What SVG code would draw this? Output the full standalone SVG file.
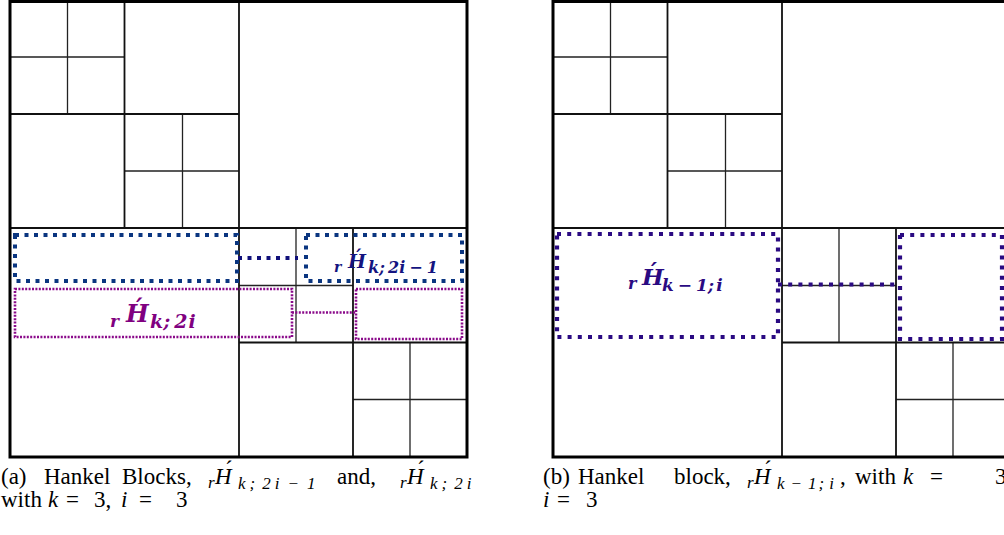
<svg xmlns="http://www.w3.org/2000/svg" width="1004" height="535" viewBox="0 0 1004 535">
<style>
.frame{fill:none;stroke:#000;stroke-width:3}
.quad{fill:none;stroke:#111;stroke-width:1.8}
.cell{fill:none;stroke:#222;stroke-width:1.3}
.blueA{fill:none;stroke:#0a3580;stroke-width:4;stroke-dasharray:4 5.5}
.blueC{fill:none;stroke:#10107a;stroke-width:4;stroke-dasharray:4 5.5}
.purp{fill:none;stroke:#8a0a8a;stroke-width:2.6;stroke-dasharray:2 1.4}
.indigo{fill:none;stroke:#2a0a82;stroke-width:4.2;stroke-dasharray:4 6.2}
.cap{font-family:"Liberation Serif",serif;font-size:23px;fill:#000}
.it{font-style:italic}
.lab{font-family:"DejaVu Serif",serif;font-style:italic;font-weight:bold}
.acc{font-style:normal}
</style>
<defs>
<g id="grid">
<path class="cell" d="M57.5,1.5V114 M0,57H114.5 M172.5,114V228 M114.5,171H229 M286,228V342.5 M229,285.5H343 M400,342.5V457 M343,399.5H457"/>
<path class="quad" d="M114.5,1.5V228 M0,114H229 M343,228V457 M229,342.5H457"/>
<path class="quad" d="M229,1.5V457 M0,228H457"/>
<rect class="frame" x="0" y="1.5" width="457" height="455.5"/>
</g>
</defs>

<g id="panel-a">
<use href="#grid" x="10" y="0"/>
</g>
<g id="panel-b">
<use href="#grid" x="553" y="0"/>
</g>

<g id="highlight-a">
<rect id="box-a-blue-left" class="blueA" x="15" y="235" width="222" height="46"/>
<rect id="box-a-blue-right" class="blueA" x="306" y="235" width="156" height="46"/>
<rect id="box-a-purple-left" class="purp" x="15" y="289" width="277" height="48"/>
<rect id="box-a-purple-right" class="purp" x="356" y="289" width="106" height="50"/>
</g>
<g id="highlight-b">
<rect id="box-b-left" class="indigo" x="557" y="234" width="221" height="103"/>
<rect id="box-b-right" class="indigo" x="900" y="235" width="102" height="104"/>
</g>

<g id="connectors">
<path class="blueC" d="M238,258H298"/>
<path class="purp" d="M292,312.5H356"/>
<path class="indigo" d="M778,284.5H900"/>
</g>

<g id="label-a-blue">
<text class="lab" fill="#141480"><tspan x="334" y="272" font-size="14">r</tspan><tspan x="348" y="268" font-size="19">H</tspan><tspan class="acc" x="353" y="264" font-size="19">´</tspan><tspan x="368" y="273" font-size="16">k;</tspan><tspan dx="3" font-size="16">2i</tspan><tspan dx="4" font-size="16">−</tspan><tspan dx="4" font-size="16">1</tspan></text>
</g>
<g id="label-a-purple">
<text class="lab" fill="#800080"><tspan x="110" y="327" font-size="17">r</tspan><tspan x="126" y="322" font-size="24">H</tspan><tspan class="acc" x="132" y="317" font-size="24">´</tspan><tspan x="150" y="328" font-size="19">k;</tspan><tspan dx="4" font-size="19">2</tspan><tspan dx="1" font-size="19">i</tspan></text>
</g>
<g id="label-b">
<text class="lab" fill="#2a0a82"><tspan x="628" y="289" font-size="16">r</tspan><tspan x="642" y="285" font-size="23">H</tspan><tspan class="acc" x="647" y="280" font-size="23">´</tspan><tspan x="662" y="291" font-size="17">k</tspan><tspan dx="4" font-size="17">−</tspan><tspan dx="4" font-size="17">1;</tspan><tspan dx="2" font-size="17">i</tspan></text>
</g>

<g id="caption-a">
<text class="cap"><tspan x="1" y="484">(a)</tspan><tspan x="44">Hankel</tspan><tspan x="122">Blocks,</tspan><tspan class="it" x="208" y="488" font-size="17">r</tspan><tspan class="it" x="215" y="484">H</tspan><tspan x="225" y="477">´</tspan><tspan class="it" x="238" y="489" font-size="17">k</tspan><tspan class="it" dx="4" font-size="17">;</tspan><tspan class="it" dx="7" font-size="17">2</tspan><tspan class="it" dx="4" font-size="17">i</tspan><tspan class="it" dx="8" font-size="17">−</tspan><tspan class="it" dx="8" font-size="17">1</tspan><tspan x="337" y="484">and,</tspan><tspan class="it" x="400" y="488" font-size="17">r</tspan><tspan class="it" x="407" y="484">H</tspan><tspan x="417" y="477">´</tspan><tspan class="it" x="430" y="489" font-size="17">k</tspan><tspan class="it" dx="4" font-size="17">;</tspan><tspan class="it" dx="7" font-size="17">2</tspan><tspan class="it" dx="4" font-size="17">i</tspan></text>
<text class="cap"><tspan x="1" y="507">with</tspan><tspan class="it" x="48">k</tspan><tspan x="66">=</tspan><tspan x="94">3,</tspan><tspan class="it" x="121">i</tspan><tspan x="139">=</tspan><tspan x="176">3</tspan></text>
</g>

<g id="caption-b">
<text class="cap"><tspan x="543" y="484">(b)</tspan><tspan x="578">Hankel</tspan><tspan x="674">block,</tspan><tspan class="it" x="747" y="488" font-size="17">r</tspan><tspan class="it" x="754" y="484">H</tspan><tspan x="764" y="477">´</tspan><tspan class="it" x="777" y="489" font-size="17">k</tspan><tspan class="it" dx="6" font-size="17">−</tspan><tspan class="it" dx="6" font-size="17">1</tspan><tspan class="it" dx="2" font-size="17">;</tspan><tspan class="it" dx="5" font-size="17">i</tspan><tspan x="840" y="484">,</tspan><tspan x="855">with</tspan><tspan class="it" x="903">k</tspan><tspan x="930">=</tspan><tspan x="995">3</tspan></text>
<text class="cap"><tspan class="it" x="543" y="507">i</tspan><tspan x="557">=</tspan><tspan x="586">3</tspan></text>
</g>
</svg>
